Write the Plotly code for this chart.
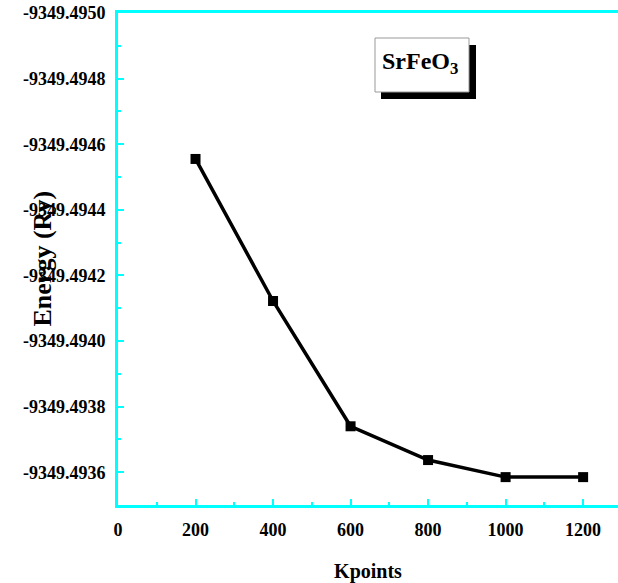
import plotly.graph_objects as go

kpoints = [200, 400, 600, 800, 1000, 1200]
energy = [-9349.494555, -9349.494122, -9349.493740, -9349.493637, -9349.493585, -9349.493585]

y_ticks = [-9349.4950, -9349.4948, -9349.4946, -9349.4944, -9349.4942, -9349.4940, -9349.4938, -9349.4936]
y_ticktext = ["-9349.4950", "-9349.4948", "-9349.4946", "-9349.4944", "-9349.4942", "-9349.4940", "-9349.4938", "-9349.4936"]
x_ticks = [0, 200, 400, 600, 800, 1000, 1200]
x_ticktext = ["0", "200", "400", "600", "800", "1000", "1200"]

FONT = "Liberation Serif"
CYAN = "#00FFFF"

fig = go.Figure()
fig.add_trace(go.Scatter(
    x=kpoints, y=energy, mode="lines+markers",
    line=dict(color="black", width=3.5),
    marker=dict(symbol="square", size=10, color="black"),
    showlegend=False,
))

fig.update_layout(
    width=618, height=583,
    margin=dict(l=118, r=0, t=13, b=78),
    paper_bgcolor="white", plot_bgcolor="white",
    font=dict(family=FONT, color="black"),
    xaxis=dict(
        range=[0, 1290], tickvals=x_ticks, ticktext=["<b>%s</b>" % t for t in x_ticktext],
        showgrid=False, zeroline=False,
        showline=True, linecolor=CYAN, linewidth=3, mirror=True,
        ticks="inside", tickcolor=CYAN, tickwidth=2, ticklen=6,
        minor=dict(dtick=100, tick0=0, ticks="inside", ticklen=3, tickcolor=CYAN, tickwidth=2),
        tickfont=dict(family=FONT, size=18, color="black"),
        ticklabelstandoff=6,
        title=dict(text="<b>Kpoints</b>", font=dict(family=FONT, size=20, color="black"), standoff=30),
    ),
    yaxis=dict(
        range=[-9349.4935, -9349.4950], autorange=False,
        tickvals=y_ticks, ticktext=["<b>%s</b>" % t for t in y_ticktext],
        showgrid=False, zeroline=False,
        showline=True, linecolor=CYAN, linewidth=3, mirror=False,
        ticks="inside", tickcolor=CYAN, tickwidth=2, ticklen=6,
        minor=dict(tickvals=[v + 0.0001 for v in y_ticks], ticks="inside", ticklen=3, tickcolor=CYAN, tickwidth=2),
        tickfont=dict(family=FONT, size=18, color="black"),
        ticklabelstandoff=6,
    ),
)

# y-axis title as annotation overlapping tick labels
fig.add_annotation(
    text="<b>Energy (Ry)</b>", xref="paper", yref="paper",
    x=-0.186, y=0.5, textangle=-90, showarrow=False,
    font=dict(family=FONT, size=26, color="black"),
)

# Label box with drop shadow
fig.add_shape(type="rect", xref="paper", yref="paper",
              x0=(381 - 118) / 500, x1=(476 - 118) / 500,
              y0=(505 - 99) / 492, y1=(505 - 45) / 492,
              fillcolor="black", line=dict(width=0))
fig.add_shape(type="rect", xref="paper", yref="paper",
              x0=(375 - 118) / 500, x1=(469 - 118) / 500,
              y0=(505 - 92) / 492, y1=(505 - 38) / 492,
              fillcolor="white", line=dict(color="#999999", width=1))
fig.add_annotation(
    text="<b>SrFeO<sub>3</sub></b>", xref="paper", yref="paper",
    x=(420 - 118) / 500, y=(505 - 63) / 492, yanchor="middle", showarrow=False,
    font=dict(family=FONT, size=24, color="black"),
)

fig.write_html("out.html")
